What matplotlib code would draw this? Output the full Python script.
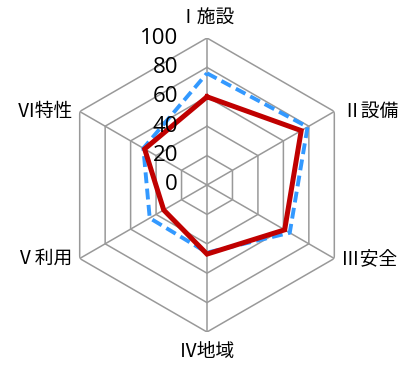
import numpy as np
import matplotlib
matplotlib.use("Agg")
import matplotlib.pyplot as plt

categories = ["Ⅰ施設", "Ⅱ設備", "Ⅲ安全", "Ⅳ地域", "Ⅴ利用", "Ⅵ特性"]
series_red = [60, 74, 61, 47, 34, 49]
series_blue = [76, 79, 65, 46, 45, 50]
ring_levels = [20, 40, 60, 80, 100]
tick_labels = ["0", "20", "40", "60", "80", "100"]

W, H = 404, 365
fig = plt.figure(figsize=(W / 100, H / 100), dpi=100)
cx, cy, R = 207, 185, 147
ax = fig.add_axes([(cx - R) / W, (H - cy - R) / H, 2 * R / W, 2 * R / H], projection="polar")
ax.set_theta_offset(np.pi / 2)
ax.set_theta_direction(-1)
ax.set_ylim(0, 100)
ax.grid(False)
ax.spines["polar"].set_visible(False)
ax.set_xticks([])
ax.set_yticks([])
ax.patch.set_alpha(0)

n = len(categories)
angles = np.arange(n) * 2 * np.pi / n
closed = np.concatenate([angles, angles[:1]])
grid_color = "#999999"
for r in ring_levels:
    ax.plot(closed, [r] * (n + 1), color=grid_color, lw=1.1, zorder=1)
for a in angles:
    ax.plot([a, a], [0, 100], color=grid_color, lw=1.1, zorder=1)

ax.plot(closed, series_blue + series_blue[:1], color="#3399FF", lw=2.8,
        linestyle=(0, (2.8, 1.4)), zorder=3, solid_joinstyle="miter")
ax.plot(closed, series_red + series_red[:1], color="#C00000", lw=3.6,
        zorder=4, solid_joinstyle="miter")

# radial labels
for i, t in enumerate(tick_labels):
    ax.annotate(t, xy=(0, i * 20), xytext=(-29, 0), textcoords="offset pixels",
                ha="right", va="center", fontsize=16, family=["Open Sans", "DejaVu Sans"],
                color="black", zorder=5, annotation_clip=False)

offsets = [(0, 21, "center", "center"), (8, 0, "left", "center"), (7, 0, "left", "center"),
           (0, -19, "center", "center"), (-7, 0, "right", "center"), (-7, 0, "right", "center")]
for a, lab, (dx, dy, ha, va) in zip(angles, categories, offsets):
    ax.annotate(lab, xy=(a, 100), xytext=(dx, dy), textcoords="offset pixels",
                ha=ha, va=va, fontsize=13.5, family=["Noto Sans CJK JP", "DejaVu Sans"],
                annotation_clip=False)

fig.savefig("out.png", dpi=100)
